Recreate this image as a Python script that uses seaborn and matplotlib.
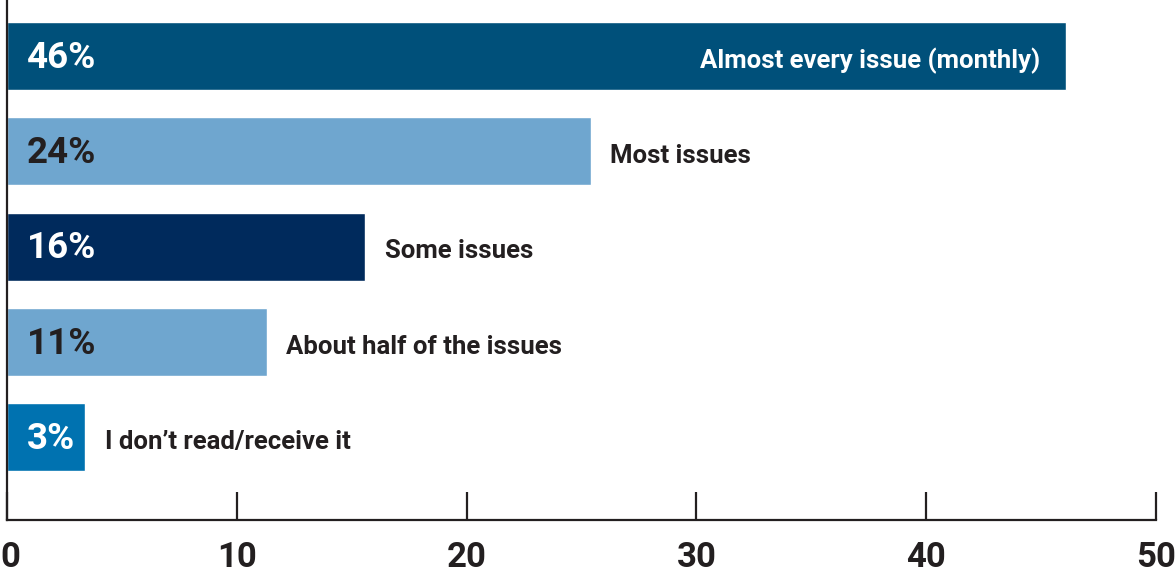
import matplotlib
matplotlib.use("Agg")
import matplotlib.pyplot as plt
import matplotlib.transforms as mtransforms
import seaborn as sns

# -----------------------------
# Data
# -----------------------------
categories = ["Almost every issue (monthly)", "Most issues", "Some issues",
              "About half of the issues", "I don\u2019t read/receive it"]
bar_lengths = [46.1, 25.4, 15.6, 11.3, 3.4]
pct_labels = ["46%", "24%", "16%", "11%", "3%"]
bar_colors = ["#00507a", "#6fa6cf", "#002a5c", "#6fa6cf", "#0072b0"]
pct_colors = ["white", "#231f20", "white", "#231f20", "white"]
x_ticks = [0, 10, 20, 30, 40, 50]

DARK = "#231f20"

sns.set_style("white")
plt.rcParams['font.family'] = ['Roboto', 'DejaVu Sans']

fig = plt.figure(figsize=(11.76, 5.81), dpi=100)
ax = fig.add_axes([7 / 1176, 61 / 581, 1149 / 1176, 520 / 581])

sns.barplot(x=bar_lengths, y=categories, hue=categories, palette=bar_colors,
            orient="h", width=0.714, saturation=1, legend=False, ax=ax)

ax.set_xlim(0, 50)
ax.set_ylim(4.871, -0.588)
ax.set_xticks(x_ticks)
ax.set_xticklabels([str(t) for t in x_ticks], fontsize=25, fontweight="bold", color=DARK)
ax.set_yticks([])
ax.set_xlabel("")
ax.set_ylabel("")

ax.tick_params(axis="x", bottom=True, direction="in", length=20, width=1.6,
               color=DARK, pad=15)
# keep the "0" inside the figure
lbl0 = ax.get_xticklabels()[0]
lbl0.set_horizontalalignment("left")
lbl0.set_transform(lbl0.get_transform() +
                   mtransforms.ScaledTranslation(-7 / 100, 0, fig.dpi_scale_trans))

for side in ["top", "right"]:
    ax.spines[side].set_visible(False)
for side in ["left", "bottom"]:
    ax.spines[side].set_color(DARK)
    ax.spines[side].set_linewidth(1.6)

# -----------------------------
# Labels
# -----------------------------
for i, (val, cat) in enumerate(zip(bar_lengths, categories)):
    ax.text(0.85, i + 0.02, pct_labels[i], color=pct_colors[i], fontsize=26.5,
            fontweight="bold", va="center", ha="left")
    if i == 0:
        ax.text(val - 1.15, i + 0.05, cat, color="white", fontsize=18.5,
                fontweight="bold", va="center", ha="right")
    else:
        ax.text(val + 0.85, i + 0.05, cat, color=DARK, fontsize=18.5,
                fontweight="bold", va="center", ha="left")

fig.savefig("out.png", dpi=100)
plt.close()
